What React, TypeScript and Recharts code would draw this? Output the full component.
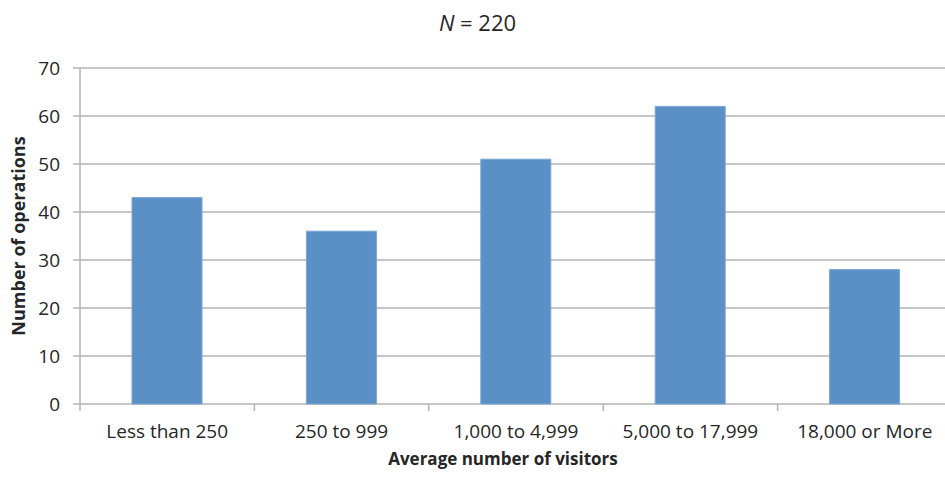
import React from 'react';
import { BarChart, Bar, XAxis, YAxis, CartesianGrid, Label } from 'recharts';

// chart data
const categories = ['Less than 250', '250 to 999', '1,000 to 4,999', '5,000 to 17,999', '18,000 or More'];
const operations = [43, 36, 51, 62, 28];
const yTicks = [0, 10, 20, 30, 40, 50, 60, 70];

const data = categories.map((name, i) => ({ name, value: operations[i] }));

const FONT = '"Open Sans", sans-serif';
const GRID = '#b3b3b3';
const TEXT = '#262626';
const TICK_SIZE = 7;
const TICK_MARGIN = 14;

// category label + boundary tick marks (Excel-style, ticks between categories)
const CategoryTick = (props: any) => {
  const { x, y, payload, index, visibleTicksCount } = props;
  const axisWidth = Number(props.width) || 872;
  const count = visibleTicksCount || categories.length;
  const band = axisWidth / count;
  const axisY = y - TICK_SIZE - TICK_MARGIN;
  return (
    <g>
      <line x1={x - band / 2} x2={x - band / 2} y1={axisY} y2={axisY + TICK_SIZE} stroke={GRID} strokeWidth={1.5} />
      {index === count - 1 && (
        <line x1={x + band / 2} x2={x + band / 2} y1={axisY} y2={axisY + TICK_SIZE} stroke={GRID} strokeWidth={1.5} />
      )}
      <text x={x} y={y} dy="0.71em" textAnchor="middle" fontFamily={FONT} fontSize={19} fill={TEXT}>
        {payload.value}
      </text>
    </g>
  );
};

const App: React.FC = () => {
  return (
    <div
      style={{
        position: 'absolute',
        left: 0,
        top: 0,
        width: 945,
        height: 479,
        overflow: 'hidden',
        background: '#fff',
      }}
    >
      {/* Title */}
      <div
        style={{
          position: 'absolute',
          top: 11,
          left: 5,
          width: 945,
          textAlign: 'center',
          fontFamily: FONT,
          fontSize: 22,
          lineHeight: '22px',
          color: TEXT,
        }}
      >
        <i>N</i> = 220
      </div>

      <BarChart
        width={960}
        height={479}
        data={data}
        margin={{ top: 68, right: 8, bottom: 0, left: 0 }}
        barSize={70}
      >
        <CartesianGrid vertical={false} stroke={GRID} strokeWidth={1.5} />
        <XAxis
          dataKey="name"
          height={75}
          axisLine={false}
          tickLine={false}
          tickSize={TICK_SIZE}
          tickMargin={TICK_MARGIN}
          tick={CategoryTick}
          interval={0}
        >
          <Label
            content={({ viewBox }: any) => (
              <text
                x={viewBox.x + viewBox.width / 2 - 13}
                y={viewBox.y + 61}
                textAnchor="middle"
                fontFamily={FONT}
                fontWeight="bold"
                fontSize={17}
                fill={TEXT}
              >
                Average number of visitors
              </text>
            )}
          />
        </XAxis>
        <YAxis
          width={80}
          domain={[0, 70]}
          ticks={yTicks}
          interval={0}
          axisLine={{ stroke: GRID, strokeWidth: 1.5 }}
          tickLine={{ stroke: GRID, strokeWidth: 1.5 }}
          tickSize={7}
          tickMargin={13}
          tick={{ fontFamily: FONT, fontSize: 19, fill: TEXT }}
        >
          <Label
            content={({ viewBox }: any) => {
              const cx = 25;
              const cy = viewBox.y + viewBox.height / 2;
              return (
                <text
                  x={cx}
                  y={cy}
                  transform={`rotate(-90, ${cx}, ${cy})`}
                  textAnchor="middle"
                  fontFamily={FONT}
                  fontWeight="bold"
                  fontSize={18}
                  fill={TEXT}
                >
                  Number of operations
                </text>
              );
            }}
          />
        </YAxis>
        <Bar
          dataKey="value"
          fill="#5b90c6"
          stroke="#7aa5d4"
          strokeWidth={1}
          isAnimationActive={false}
        />
      </BarChart>
    </div>
  );
};

export default App;
